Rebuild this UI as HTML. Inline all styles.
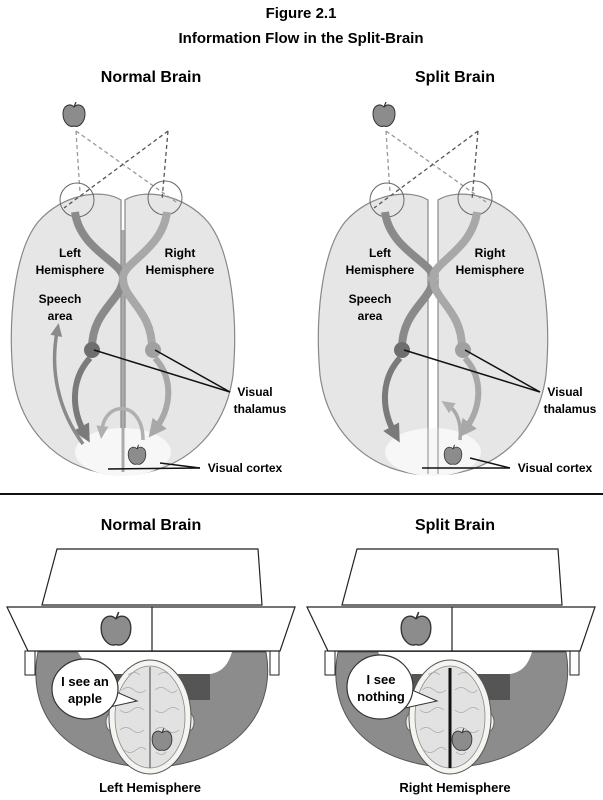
<!DOCTYPE html>
<html><head><meta charset="utf-8"><style>
html,body{margin:0;padding:0;background:#fff;}
svg{display:block;font-family:"Liberation Sans",sans-serif;font-weight:bold;}
</style></head><body>
<svg width="603" height="800" viewBox="0 0 603 800" xmlns="http://www.w3.org/2000/svg">
<defs>
<marker id="ad" markerWidth="20" markerHeight="20" refX="6" refY="10" orient="auto" markerUnits="userSpaceOnUse"><path d="M0,1 L18,10 L0,19 z" fill="#7a7a7a"/></marker>
<marker id="al" markerWidth="20" markerHeight="20" refX="6" refY="10" orient="auto" markerUnits="userSpaceOnUse"><path d="M0,1 L18,10 L0,19 z" fill="#a8a8a8"/></marker>
<marker id="as" markerWidth="14" markerHeight="14" refX="4" refY="7" orient="auto" markerUnits="userSpaceOnUse"><path d="M0,1 L13,7 L0,13 z" fill="#8a8a8a"/></marker>
<marker id="asl" markerWidth="14" markerHeight="14" refX="4" refY="7" orient="auto" markerUnits="userSpaceOnUse"><path d="M0,1 L13,7 L0,13 z" fill="#b0b0b0"/></marker>
<g id="apple"><path d="M0,-9 C-4,-13 -11,-11 -11,-2 C-11,6 -5,12 0,10 C5,12 11,6 11,-2 C11,-11 4,-13 0,-9 z" fill="#8c8c8c" stroke="#333" stroke-width="1"/><path d="M0,-9 L2,-14" stroke="#333" stroke-width="1.2"/></g>
<g id="lhemi"><path d="M121,200 C102,188 62,194 38,222 C14,252 8,320 13,375 C20,428 55,466 108,474 L121,474 z" fill="#e6e6e6" stroke="#888" stroke-width="1.2"/></g>
<g id="rhemi"><path d="M125,200 C144,188 184,194 208,222 C232,252 238,320 233,375 C226,428 191,466 138,474 L125,474 z" fill="#e6e6e6" stroke="#888" stroke-width="1.2"/></g>
</defs>

<text x="301" y="18" font-size="15" text-anchor="middle">Figure 2.1</text>
<text x="301" y="43" font-size="15" text-anchor="middle">Information Flow in the Split-Brain</text>
<text x="151" y="82" font-size="16" text-anchor="middle">Normal Brain</text>
<text x="455" y="82" font-size="16" text-anchor="middle">Split Brain</text>

<!-- LEFT TOP -->
<g>
<use href="#lhemi"/><use href="#rhemi"/>
<ellipse cx="123" cy="452" rx="48" ry="24" fill="#f7f7f7"/>
<line x1="123" y1="230" x2="123" y2="472" stroke="#aaa" stroke-width="3"/>
<use href="#apple" transform="translate(74,116)"/>
<g stroke-dasharray="4,3" fill="none" stroke-width="1.3">
<path d="M76,131 L80,193 M76,131 L176,202" stroke="#999"/>
<path d="M168,131 L162,200 M168,131 L64,208" stroke="#555"/>
</g>
<circle cx="77" cy="200" r="17" fill="none" stroke="#666" stroke-width="1"/>
<circle cx="165" cy="198" r="17" fill="none" stroke="#666" stroke-width="1"/>
<path d="M75,212 C80,250 123,262 123,278 C123,300 92,310 92,348" fill="none" stroke="#8a8a8a" stroke-width="8"/>
<path d="M167,212 C162,250 123,262 123,278 C123,300 152,310 152,348" fill="none" stroke="#a8a8a8" stroke-width="8"/>
<circle cx="92" cy="350" r="8" fill="#6e6e6e"/>
<circle cx="153" cy="350" r="8" fill="#a0a0a0"/>
<path d="M90,358 C70,380 72,410 84,432" fill="none" stroke="#7a7a7a" stroke-width="6" marker-end="url(#ad)"/>
<path d="M155,358 C175,380 170,410 156,428" fill="none" stroke="#a8a8a8" stroke-width="6" marker-end="url(#al)"/>
<path d="M83,444 C58,410 50,370 57,332" fill="none" stroke="#8a8a8a" stroke-width="3.5" marker-end="url(#as)"/>
<path d="M143,440 C143,400 105,400 102,430" fill="none" stroke="#b0b0b0" stroke-width="3.5" marker-end="url(#asl)"/>
<use href="#apple" transform="translate(137,456) scale(0.8)"/>
<g stroke="#111" stroke-width="1.5">
<line x1="94" y1="350" x2="230" y2="392"/><line x1="155" y1="350" x2="230" y2="392"/>
<line x1="108" y1="469" x2="200" y2="468"/><line x1="160" y1="463" x2="200" y2="468"/>
</g>
<g font-size="12" text-anchor="middle">
<text x="70" y="257">Left</text><text x="70" y="274">Hemisphere</text>
<text x="180" y="257">Right</text><text x="180" y="274">Hemisphere</text>
<text x="60" y="303">Speech</text><text x="60" y="320">area</text>
<text x="255" y="396">Visual</text><text x="260" y="413">thalamus</text>
<text x="245" y="472">Visual cortex</text>
</g>
</g>

<!-- RIGHT TOP -->
<g transform="translate(310,0)">
<g transform="translate(-3,0)"><use href="#lhemi"/></g><g transform="translate(3,0)"><use href="#rhemi"/></g>
<ellipse cx="123" cy="452" rx="48" ry="24" fill="#f7f7f7"/>
<line x1="118" y1="200" x2="118" y2="474" stroke="#888" stroke-width="1"/>
<line x1="128" y1="200" x2="128" y2="474" stroke="#888" stroke-width="1"/>
<use href="#apple" transform="translate(74,116)"/>
<g stroke-dasharray="4,3" fill="none" stroke-width="1.3">
<path d="M76,131 L80,193 M76,131 L176,202" stroke="#999"/>
<path d="M168,131 L162,200 M168,131 L64,208" stroke="#555"/>
</g>
<circle cx="77" cy="200" r="17" fill="none" stroke="#666" stroke-width="1"/>
<circle cx="165" cy="198" r="17" fill="none" stroke="#666" stroke-width="1"/>
<path d="M75,212 C80,250 123,262 123,278 C123,300 92,310 92,348" fill="none" stroke="#8a8a8a" stroke-width="8"/>
<path d="M167,212 C162,250 123,262 123,278 C123,300 152,310 152,348" fill="none" stroke="#a8a8a8" stroke-width="8"/>
<circle cx="92" cy="350" r="8" fill="#6e6e6e"/>
<circle cx="153" cy="350" r="8" fill="#a0a0a0"/>
<path d="M90,358 C70,380 72,410 84,432" fill="none" stroke="#7a7a7a" stroke-width="6" marker-end="url(#ad)"/>
<path d="M155,358 C175,380 170,410 156,428" fill="none" stroke="#a8a8a8" stroke-width="6" marker-end="url(#al)"/>
<path d="M150,440 C152,420 145,410 139,406" fill="none" stroke="#a8a8a8" stroke-width="3.5" marker-end="url(#asl)"/>
<use href="#apple" transform="translate(143,456) scale(0.8)"/>
<g stroke="#111" stroke-width="1.5">
<line x1="94" y1="350" x2="230" y2="392"/><line x1="155" y1="350" x2="230" y2="392"/>
<line x1="112" y1="468" x2="200" y2="468"/><line x1="160" y1="458" x2="200" y2="468"/>
</g>
<g font-size="12" text-anchor="middle">
<text x="70" y="257">Left</text><text x="70" y="274">Hemisphere</text>
<text x="180" y="257">Right</text><text x="180" y="274">Hemisphere</text>
<text x="60" y="303">Speech</text><text x="60" y="320">area</text>
<text x="255" y="396">Visual</text><text x="260" y="413">thalamus</text>
<text x="245" y="472">Visual cortex</text>
</g>
</g>

<line x1="0" y1="494" x2="603" y2="494" stroke="#111" stroke-width="2"/>
<text x="151" y="530" font-size="16" text-anchor="middle">Normal Brain</text>
<text x="455" y="530" font-size="16" text-anchor="middle">Split Brain</text>

<!-- BOTTOM LEFT -->
<g id="desk">
<path d="M38,652 C28,700 50,762 150,768 C250,762 275,700 266,652 z" fill="#8c8c8c" stroke="#555" stroke-width="1"/>
<path d="M78,652 C85,665 95,672 112,674 L210,674 C222,672 228,665 232,652 z" fill="#fff"/>
<rect x="112" y="674" width="98" height="26" fill="#555"/>
<rect x="25" y="651" width="10" height="24" fill="#fff" stroke="#222" stroke-width="1"/>
<rect x="270" y="651" width="9" height="24" fill="#fff" stroke="#222" stroke-width="1"/>
<path d="M57,549 L258,549 L262,605 L42,605 z" fill="#fff" stroke="#222" stroke-width="1.2"/>
<path d="M7,607 L295,607 L280,651 L28,651 z" fill="#fff" stroke="#222" stroke-width="1.2"/>
<line x1="152" y1="607" x2="152" y2="651" stroke="#222" stroke-width="1.2"/>
<use href="#apple" transform="translate(116,631) scale(1.35)"/>
<ellipse cx="150" cy="668" rx="9" ry="6" fill="#eee" stroke="#666"/>
<ellipse cx="111" cy="722" rx="5" ry="9" fill="#eee" stroke="#666"/>
<ellipse cx="189" cy="722" rx="5" ry="9" fill="#eee" stroke="#666"/>
<ellipse cx="150" cy="717" rx="41" ry="57" fill="#f4f4f0" stroke="#555" stroke-width="1"/>
<ellipse cx="150" cy="717" rx="35" ry="51" fill="#e2e2e2" stroke="#888" stroke-width="0.8"/>
<g fill="none" stroke="#aaa" stroke-width="0.8">
<path d="M122,690 q6,-5 12,0 t12,0 M155,690 q6,-5 12,0 t10,0 M120,710 q6,5 12,0 t12,0 M155,710 q6,5 12,0 t12,0 M120,730 q6,-5 12,0 t12,0 M155,730 q6,-5 12,0 t12,0 M124,750 q6,5 12,0 t10,0 M156,752 q6,5 10,0 M128,675 q6,-5 12,0 M158,675 q6,-5 12,0"/>
</g>
</g>
<line x1="150" y1="667" x2="150" y2="768" stroke="#777" stroke-width="1.5"/>
<use href="#apple" transform="translate(162,741) scale(0.9)"/>
<path d="M105,708 L137,701 L112,690 z" fill="#fff" stroke="#333" stroke-width="1"/>
<ellipse cx="85" cy="689" rx="33" ry="30" fill="#fff" stroke="#333" stroke-width="1.2"/>
<text x="85" y="686" font-size="13" text-anchor="middle">I see an</text>
<text x="85" y="703" font-size="13" text-anchor="middle">apple</text>
<text x="150" y="792" font-size="13" text-anchor="middle">Left Hemisphere</text>

<!-- BOTTOM RIGHT -->
<g transform="translate(300,0)">
<use href="#desk"/>
<line x1="150" y1="668" x2="150" y2="768" stroke="#111" stroke-width="3"/>
<use href="#apple" transform="translate(162,741) scale(0.9)"/>
<path d="M105,708 L137,701 L112,690 z" fill="#fff" stroke="#333" stroke-width="1"/>
<ellipse cx="80" cy="687" rx="33" ry="32" fill="#fff" stroke="#333" stroke-width="1.2"/>
<text x="81" y="684" font-size="13" text-anchor="middle">I see</text>
<text x="81" y="701" font-size="13" text-anchor="middle">nothing</text>
<text x="155" y="792" font-size="13" text-anchor="middle">Right Hemisphere</text>
</g>
</svg>
</body></html>
